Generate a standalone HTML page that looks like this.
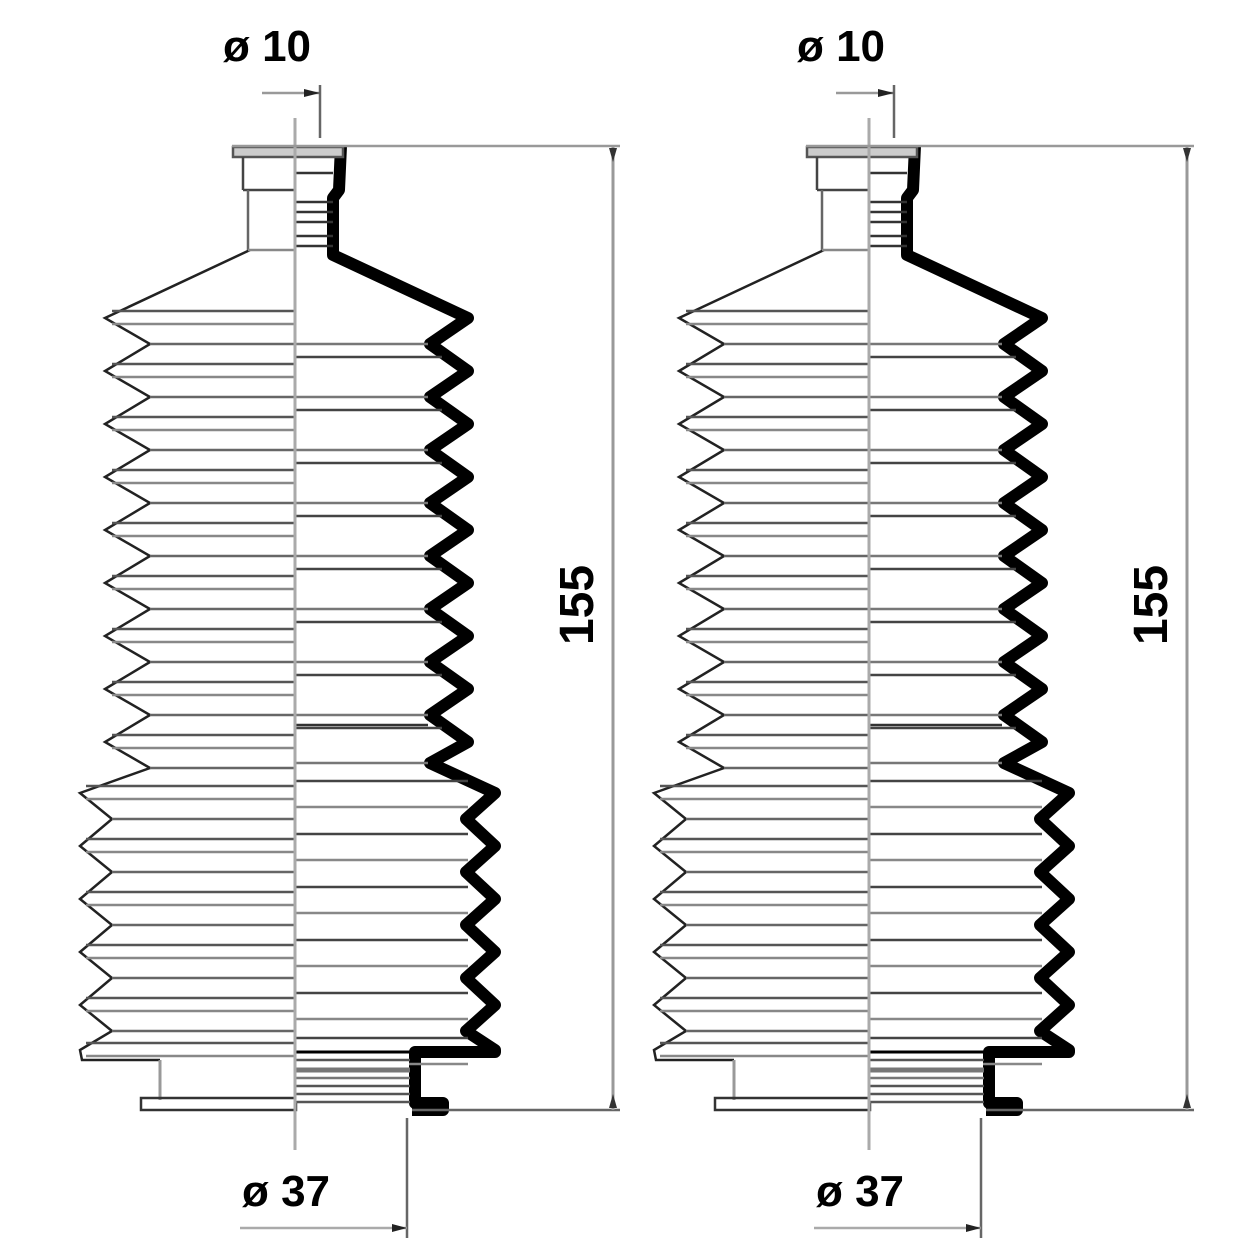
<!DOCTYPE html>
<html><head><meta charset="utf-8"><style>
html,body{margin:0;padding:0;background:#fff}
svg{display:block}
text{font-family:"Liberation Sans",sans-serif;font-weight:bold;fill:#000}
</style></head><body>
<svg id="s" width="1250" height="1250" viewBox="0 0 1250 1250" xmlns="http://www.w3.org/2000/svg">
<g id="boot"></g>
<use href="#boot" x="574" y="0"/>
<text x="267" y="61" font-size="44" text-anchor="middle">ø 10</text>
<text x="841" y="61" font-size="44" text-anchor="middle">ø 10</text>
<text x="286" y="1206" font-size="44" text-anchor="middle">ø 37</text>
<text x="860" y="1206" font-size="44" text-anchor="middle">ø 37</text>
<text transform="translate(593,605) rotate(-90)" font-size="48" text-anchor="middle">155</text>
<text transform="translate(1167,605) rotate(-90)" font-size="48" text-anchor="middle">155</text>
</svg>
<script>
(function(){
var g=document.getElementById('boot');
var h='';
function L(x1,y1,x2,y2,c,w){h+='<line x1="'+x1+'" y1="'+y1+'" x2="'+x2+'" y2="'+y2+'" stroke="'+c+'" stroke-width="'+w+'"/>';}
var up=[],lo=[];
for(var i=0;i<9;i++)up.push(318+53*i);
lo=[793,846,899,952,1005,1050];
var r='M341,146 L339,190 L333,198 L333,255 L468,'+up[0];
var l='M250,250 L105,'+up[0];
for(var i=0;i<up.length;i++){
 var c=up[i];
 if(i>0){r+=' L468,'+c;l+=' L105,'+c;}
 var tr=c+26;
 if(i<up.length-1){r+=' L430,'+tr;l+=' L150,'+tr;}
}
r+=' L430,763';l+=' L150,768';
for(var i=0;i<lo.length;i++){
 var c=lo[i];r+=' L495,'+c;l+=' L80,'+c;
 if(i<lo.length-1){r+=' L466,'+(c+26);l+=' L112,'+(c+26);}
}
r+=' L495,1052 L415,1052 L415,1103 L443,1103 L443,1110 L412,1110';
l+=' L82,1060 L160,1060';
h+='<path d="'+r+'" fill="none" stroke="#000" stroke-width="12" stroke-linejoin="round"/>';
h+='<path d="'+l+'" fill="none" stroke="#222" stroke-width="2.5"/>';
for(var i=0;i<up.length;i++){var c=up[i];L(112,c-7,295,c-7,'#555',2.5);L(112,c+6,295,c+6,'#888',2.5);if(i<up.length-1)L(150,c+26,295,c+26,'#666',2.5);}
for(var i=0;i<lo.length;i++){var c=lo[i];L(86,c-7,295,c-7,'#555',2.5);L(86,c+6,295,c+6,'#888',2.5);if(i<lo.length-1)L(112,c+26,295,c+26,'#666',2.5);}
L(150,768,295,768,'#666',2.5);
for(var i=1;i<up.length;i++){var c=up[i];L(295,c-27,428,c-27,'#777',2.5);L(295,c-14,442,c-14,'#444',2.5);}
L(295,763,428,763,'#777',2.5);L(295,725,428,725,'#333',2.5);
for(var i=0;i<lo.length;i++){var c=lo[i];L(295,c-12,468,c-12,'#444',2.5);L(295,c+14,468,c+14,'#888',2.5);}
h+='<rect x="233" y="147" width="110" height="10" fill="#ccc" stroke="#555" stroke-width="2.5"/>';
L(243,157,243,190,'#444',2.5);L(243,190,295,190,'#444',2.5);L(248,190,248,250,'#666',2.5);L(248,250,295,250,'#888',2.5);
for(var y of [173,202,212,222,236,246])L(295,y,333,y,'#333',2.5);
L(160,1060,160,1100,'#999',3);
h+='<rect x="141" y="1098" width="155" height="12" fill="none" stroke="#333" stroke-width="2.5"/>';
h+='<rect x="295" y="1055" width="114" height="48" fill="#fff"/>';
for(var y of [1060,1070,1078,1086,1094,1102])L(295,y,410,y,y==1070||y==1078?'#777':'#555',y==1070?5:2.5);
L(295,1052,420,1052,'#000',3);
L(295,118,295,1150,'#aaa',3);
L(232,146,620,146,'#999',2.5);L(412,1110,620,1110,'#666',2.5);
L(613,146,613,1110,'#999',3);
h+='<path d="M609,148 L617,148 L613,162 Z" fill="#333"/><path d="M609,1108 L617,1108 L613,1094 Z" fill="#333"/>';
L(262,93,320,93,'#999',2.5);L(320,85,320,138,'#666',2.5);
h+='<path d="M304,89 L320,93 L304,97 Z" fill="#222"/>';
L(407,1118,407,1238,'#666',2.5);L(240,1228,407,1228,'#aaa',2.5);
h+='<path d="M392,1224 L407,1228 L392,1232 Z" fill="#222"/>';
g.innerHTML=h;
})();
</script>
</body></html>
